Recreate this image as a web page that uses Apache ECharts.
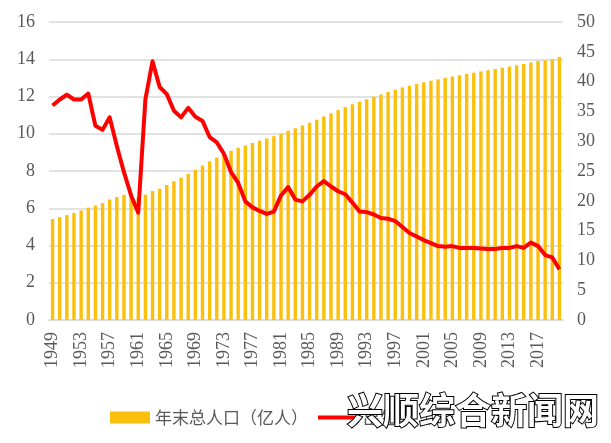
<!DOCTYPE html>
<html>
<head>
<meta charset="utf-8">
<script src="https://cdn.jsdelivr.net/npm/echarts@6/dist/echarts.min.js"></script>
<style>html,body{margin:0;padding:0;background:#fff;}#c{width:611px;height:443px;}</style>
</head>
<body>
<div id="c"></div>
<script>
var years = [];
for (var y = 1949; y <= 2020; y++) years.push(String(y));

var population = [5.42,5.52,5.63,5.75,5.88,6.03,6.15,6.28,6.47,6.60,6.72,6.62,6.59,6.73,6.92,7.05,7.25,7.45,7.64,7.85,8.07,8.30,8.52,8.72,8.92,9.09,9.24,9.37,9.50,9.63,9.75,9.87,10.01,10.17,10.30,10.44,10.59,10.75,10.93,11.10,11.27,11.43,11.58,11.72,11.85,11.99,12.11,12.24,12.36,12.48,12.58,12.67,12.76,12.85,12.92,13.00,13.08,13.14,13.21,13.28,13.35,13.41,13.47,13.54,13.61,13.68,13.75,13.83,13.90,13.95,14.00,14.12];

var birthRate = [36.0,37.0,37.8,37.0,37.0,38.0,32.6,31.9,34.0,29.2,24.8,20.9,18.0,37.0,43.4,39.1,37.9,35.1,34.0,35.6,34.1,33.4,30.7,29.8,27.9,24.8,23.0,19.9,18.9,18.3,17.8,18.2,20.9,22.3,20.2,19.9,21.0,22.4,23.3,22.4,21.6,21.1,19.7,18.2,18.1,17.7,17.1,17.0,16.6,15.6,14.6,14.0,13.4,12.9,12.4,12.3,12.4,12.1,12.1,12.1,12.0,11.9,11.9,12.1,12.1,12.4,12.1,13.0,12.4,10.9,10.5,8.5];

var leftTicks = {min: 0, max: 16, interval: 2};
var rightTicks = {min: 0, max: 50, interval: 5};

var labelFont = {color: '#595959', fontFamily: 'Liberation Serif', fontSize: 18};

var chart = echarts.init(document.getElementById('c'), null, {renderer: 'canvas'});
chart.setOption({
  animation: false,
  backgroundColor: '#ffffff',
  grid: {left: 49, right: 48, top: 22, bottom: 123, containLabel: false},
  legend: {
    left: 105, top: 404,
    itemWidth: 40, itemHeight: 12, itemGap: 8,
    textStyle: {color: '#595959', fontFamily: 'Noto Sans CJK SC', fontSize: 17},
    data: [
      {name: '年末总人口（亿人）', icon: 'rect'},
      {name: '出生率（‰）', itemStyle: {opacity: 0}, lineStyle: {width: 4}}
    ]
  },
  xAxis: {
    type: 'category',
    data: years,
    boundaryGap: true,
    axisLine: {show: true, lineStyle: {color: '#D9D9D9', width: 1.5}},
    axisTick: {show: false},
    axisLabel: Object.assign({rotate: 90, interval: 3, margin: 12}, labelFont)
  },
  yAxis: [
    {
      type: 'value', min: leftTicks.min, max: leftTicks.max, interval: leftTicks.interval,
      axisLine: {show: false}, axisTick: {show: false},
      axisLabel: Object.assign({margin: 14}, labelFont),
      splitLine: {lineStyle: {color: '#D9D9D9', width: 1.5}}
    },
    {
      type: 'value', min: rightTicks.min, max: rightTicks.max, interval: rightTicks.interval,
      position: 'right',
      axisLine: {show: false}, axisTick: {show: false},
      axisLabel: Object.assign({margin: 14}, labelFont),
      splitLine: {show: false}
    }
  ],
  series: [
    {
      name: '年末总人口（亿人）',
      type: 'bar',
      yAxisIndex: 0,
      data: population,
      barWidth: '48%',
      itemStyle: {color: '#FBC00E'}
    },
    {
      name: '出生率（‰）',
      type: 'line',
      yAxisIndex: 1,
      data: birthRate,
      symbol: 'none',
      smooth: false,
      lineStyle: {color: '#FF0000', width: 4, join: 'round'},
      itemStyle: {color: '#FF0000'},
      z: 5
    }
  ],
  graphic: [
    {
      type: 'text',
      left: 346, top: 391,
      z: 100,
      style: {
        text: '兴顺综合新闻网',
        fontFamily: 'Noto Sans CJK SC',
        fontWeight: 'bold',
        fontSize: 36,
        fill: '#ffffff',
        stroke: '#000000',
        lineWidth: 2
      }
    }
  ]
});
</script>
</body>
</html>
